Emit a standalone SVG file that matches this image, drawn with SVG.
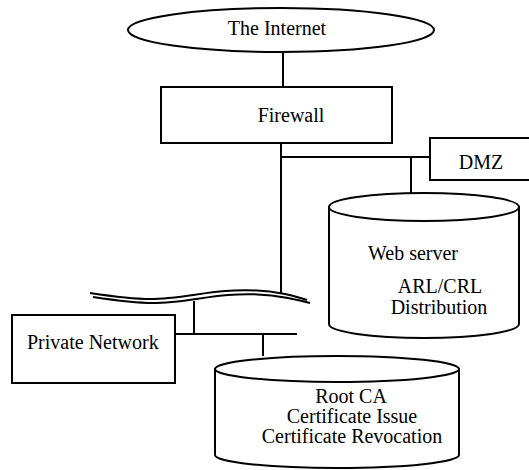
<svg xmlns="http://www.w3.org/2000/svg" width="529" height="470" viewBox="0 0 529 470">
  <style>
    .shape { fill: #ffffff; stroke: #000000; stroke-width: 2; }
    .wire { fill: none; stroke: #000000; stroke-width: 2; }
    .label { font-family: "Liberation Serif", "Times New Roman", serif; font-size: 20px; fill: #000000; }
    .mid { text-anchor: middle; }
  </style>
  <rect width="529" height="470" fill="#ffffff"/>

  <!-- connectors -->
  <g id="connectors">
    <line class="wire" x1="283" y1="52" x2="283" y2="87"/>
    <line class="wire" x1="281" y1="125" x2="281" y2="293"/>
    <line class="wire" x1="281" y1="157" x2="430" y2="157"/>
    <line class="wire" x1="411" y1="157" x2="411" y2="194"/>
    <!-- network backbone (double wavy line) -->
    <path class="wire" d="M 90 293 C 110 296, 130 299, 150 299 C 175 299, 200 293, 225 291 C 250 289, 270 291, 285 294 C 295 296, 300 298, 307 300"/>
    <path class="wire" d="M 93 297 C 113 300, 133 303, 153 303 C 178 303, 203 297, 228 295 C 253 293, 273 295, 288 298 C 298 300, 303 301, 310 303"/>
    <line class="wire" x1="194" y1="301" x2="194" y2="334"/>
    <line class="wire" x1="175" y1="334" x2="297" y2="334"/>
    <line class="wire" x1="263" y1="334" x2="263" y2="356"/>
  </g>

  <g id="internet">
    <ellipse class="shape" cx="281" cy="30" rx="153" ry="22"/>
    <text class="label mid" x="277" y="35">The Internet</text>
  </g>

  <g id="firewall">
    <rect class="shape" x="161" y="87" width="231" height="56"/>
    <text class="label mid" x="291" y="122">Firewall</text>
  </g>

  <g id="dmz">
    <rect class="shape" x="430" y="138" width="110" height="42"/>
    <text class="label mid" x="481" y="169">DMZ</text>
  </g>

  <g id="web-server">
    <path class="shape" d="M 329 207 L 329 324 A 95 14 0 0 0 519 324 L 519 207 Z"/>
    <ellipse class="shape" cx="424" cy="207" rx="95" ry="14"/>
    <text class="label" x="368" y="260">Web server</text>
    <text class="label mid" x="440" y="293">ARL/CRL</text>
    <text class="label mid" x="439" y="314">Distribution</text>
  </g>

  <g id="private-network">
    <rect class="shape" x="12" y="315" width="163" height="68"/>
    <text class="label" x="27" y="349">Private Network</text>
  </g>

  <g id="root-ca">
    <path class="shape" d="M 215 369 L 215 455 A 122 13 0 0 0 459 455 L 459 369 Z"/>
    <ellipse class="shape" cx="337" cy="369" rx="122" ry="13"/>
    <text class="label mid" x="351" y="403">Root CA</text>
    <text class="label mid" x="352" y="423">Certificate Issue</text>
    <text class="label mid" x="352" y="443">Certificate Revocation</text>
  </g>
</svg>
